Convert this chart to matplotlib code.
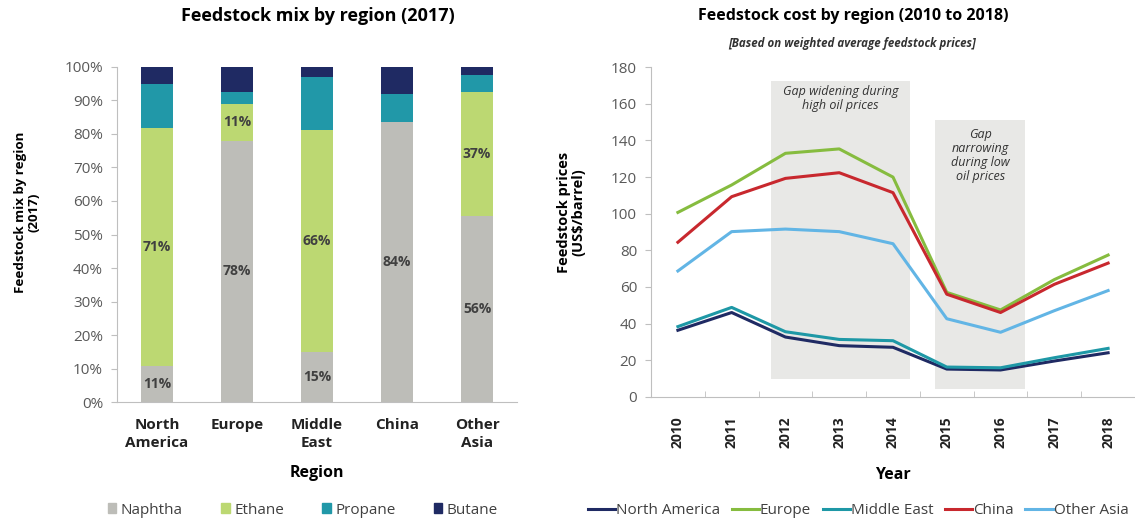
import matplotlib.pyplot as plt
from matplotlib.patches import Patch
from matplotlib.lines import Line2D
import numpy as np

plt.rcParams['font.family'] = ['Open Sans', 'DejaVu Sans']

# left chart: feedstock mix by region (2017), in %
regions = ["North\nAmerica", "Europe", "Middle\nEast", "China", "Other\nAsia"]
naphtha = [10.7, 78.0, 15.0, 83.6, 55.6]
ethane = [71.0, 11.0, 66.0, 0.0, 37.0]
propane = [13.0, 3.6, 16.0, 8.4, 4.8]
butane = [5.3, 7.4, 3.0, 8.0, 2.6]
mix_names = ["Naphtha", "Ethane", "Propane", "Butane"]
mix_colors = ["#BDBDB8", "#BCD872", "#2198A8", "#1F2A63"]

# right chart: feedstock cost by region, US$/barrel
years = [2010, 2011, 2012, 2013, 2014, 2015, 2016, 2017, 2018]
north_america = [36.3, 46.0, 32.6, 27.9, 27.0, 15.1, 14.6, 19.5, 24.0]
europe = [100.7, 115.7, 133.0, 135.4, 120.0, 57.0, 47.4, 64.0, 77.4]
middle_east = [38.3, 48.8, 35.5, 31.3, 30.6, 16.2, 15.8, 21.3, 26.4]
china = [84.4, 109.3, 119.3, 122.4, 111.5, 56.0, 46.0, 61.4, 73.0]
other_asia = [68.7, 90.2, 91.6, 90.2, 83.6, 42.6, 35.2, 47.0, 58.0]
line_names = ["North America", "Europe", "Middle East", "China", "Other Asia"]
line_colors = ["#1F2A63", "#86BC3F", "#1E98A6", "#C8282E", "#62B5E5"]

spine_c = "#BFBFBF"
tick_c = "#595959"
W, H = 1135, 523

fig = plt.figure(figsize=(11.35, 5.23), dpi=100)

# ---------- left: stacked bars ----------
ax1 = fig.add_axes([117/W, 1-402.3/H, 400/W, 335.6/H])
x = np.arange(len(regions))
bottom = np.zeros(len(regions))
for vals, name, col in zip([naphtha, ethane, propane, butane], mix_names, mix_colors):
    ax1.bar(x, vals, width=0.4, bottom=bottom, color=col, label=name)
    if name in ("Naphtha", "Ethane"):
        for xi, b, v in zip(x, bottom, vals):
            if v > 0:
                ax1.text(xi, b + v/2, f"{v:.0f}%", ha="center", va="center",
                         fontsize=10, fontweight="bold", color="#404040")
    bottom += np.array(vals)

ax1.set_xlim(-0.5, 4.5)
ax1.set_ylim(0, 100)
ax1.set_yticks(np.arange(0, 101, 10))
ax1.set_yticklabels([f"{v}%" for v in range(0, 101, 10)])
ax1.set_xticks(x)
ax1.set_xticklabels(regions, fontweight="bold", fontsize=11, color="#222222", linespacing=1.4)
ax1.tick_params(axis="x", length=0, pad=11)
ax1.tick_params(axis="y", length=4, color=spine_c, labelsize=11, labelcolor=tick_c, pad=6)
for s in ["top", "right"]:
    ax1.spines[s].set_visible(False)
for s in ["left", "bottom"]:
    ax1.spines[s].set_color(spine_c)
ax1.set_xlabel("Region", fontsize=11.5, fontweight="bold", labelpad=11)
fig.text(27.5/W, 1-212/H, "Feedstock mix by region\n(2017)", rotation=90, ha="center",
         va="center", fontsize=9.6, fontweight="bold", linespacing=1.0)
fig.text(318/W, 1-16/H, "Feedstock mix by region (2017)", ha="center", va="center",
         fontsize=13, fontweight="bold")

mix_handles = [Patch(color=c, label=n) for n, c in zip(mix_names, mix_colors)]
fig.legend(handles=mix_handles, loc="center", bbox_to_anchor=(303/W, 1-510/H),
           ncol=4, frameon=False, fontsize=11, handlelength=0.55, handleheight=0.55,
           handletextpad=0.3, columnspacing=2.5, labelcolor="#404040")

# ---------- right: lines ----------
ax2 = fig.add_axes([651/W, 1-396.7/H, 484/W, 329.4/H])
ax2.fill_between([2011.73, 2014.31], 9.8, 172.5, color="#E8E8E6", lw=0, zorder=0)
ax2.fill_between([2014.79, 2016.46], 4.4, 151.2, color="#E8E8E6", lw=0, zorder=0)
ax2.text(2013.02, 163, "Gap widening during\nhigh oil prices", ha="center", va="center",
         fontsize=9, style="italic", color="#333333", linespacing=1.1)
ax2.text(2015.62, 132, "Gap\nnarrowing\nduring low\noil prices", ha="center", va="center",
         fontsize=9, style="italic", color="#333333", linespacing=1.1)

for vals, name, col in zip([north_america, europe, middle_east, china, other_asia],
                           line_names, line_colors):
    ax2.plot(years, vals, color=col, lw=2.2, label=name, zorder=3)

ax2.set_xlim(2009.5, 2018.5)
ax2.set_ylim(0, 180)
ax2.set_yticks(np.arange(0, 181, 20))
ax2.set_xticks(years)
ax2.set_xticklabels([str(y) for y in years], rotation=90, fontweight="bold", fontsize=10,
                    color="#222222")
ax2.set_xticks(np.arange(2009.5, 2018.6, 1), minor=True)
ax2.tick_params(axis="x", which="major", length=0, pad=14)
ax2.tick_params(axis="x", which="minor", length=4, direction="in", color=spine_c)
ax2.tick_params(axis="y", length=4, color=spine_c, labelsize=11, labelcolor=tick_c, pad=6)
for s in ["top", "right"]:
    ax2.spines[s].set_visible(False)
for s in ["left", "bottom"]:
    ax2.spines[s].set_color(spine_c)
ax2.set_xlabel("Year", fontsize=11.5, fontweight="bold", labelpad=14)
fig.text(571/W, 1-212/H, "Feedstock prices\n(US$/barrel)", rotation=90, ha="center",
         va="center", fontsize=10.5, fontweight="bold", linespacing=1.0)
fig.text(853/W, 1-16/H, "Feedstock cost by region (2010 to 2018)", ha="center",
         va="center", fontsize=11.5, fontweight="bold")
fig.text(852/W, 1-43/H, "[Based on weighted average feedstock prices]", ha="center",
         va="center", fontsize=8.3, fontweight="bold", style="italic", color="#333333")

line_handles = [Line2D([], [], color=c, lw=2.2, label=n) for n, c in zip(line_names, line_colors)]
fig.legend(handles=line_handles, loc="center", bbox_to_anchor=(858/W, 1-511/H),
           ncol=5, frameon=False, fontsize=11, handlelength=1.8, handletextpad=0.05,
           columnspacing=0.75, labelcolor="#404040")

fig.savefig("out.png", dpi=100)
